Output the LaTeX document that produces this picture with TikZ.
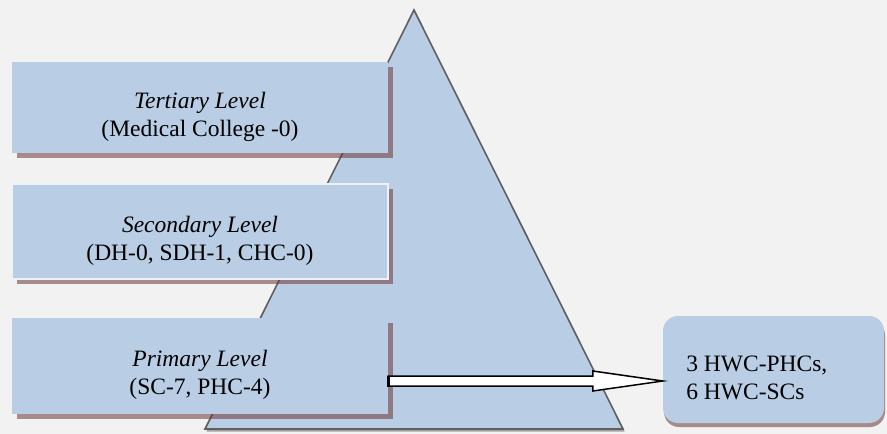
\documentclass[tikz,border=0pt]{standalone}
\usepackage{fontspec}
\setmainfont{Liberation Serif}
\usetikzlibrary{shadows}
\definecolor{lvlfill}{HTML}{B9CDE5}
\definecolor{lvlshadow}{RGB}{107,53,53}
\definecolor{pagebg}{HTML}{F2F2F2}
\definecolor{triedge}{RGB}{95,95,95}

\begin{document}
\begin{tikzpicture}[x=1pt,y=-1pt,
    lvlbox/.style={fill=lvlfill, minimum width=376,
        drop shadow={shadow xshift=5pt, shadow yshift=-5pt, fill=lvlshadow, opacity=.55}},
    lvltext/.style={align=center, font=\fontsize{23.5}{28}\selectfont},
    blockarrow/.style={draw=black, fill=white, line width=1.5pt, line join=miter}]
\fill[pagebg] (0,0) rectangle (887,434);
\useasboundingbox (0,0) rectangle (887,434);

\filldraw[fill=lvlfill, draw=triedge, line width=1.6pt,
    drop shadow={shadow xshift=1.5pt, shadow yshift=-2.5pt, fill=gray, opacity=.7}]
    (414,10) -- (623,429) -- (205,429) -- cycle;

\begin{scope}[every node/.style={lvlbox}]
    \node (tert) at (200,107.5) [minimum height=91] {};
    \node (sec) at (200,231.5) [minimum height=95, draw=white!75!lvlfill, line width=1.2pt] {};
    \node (prim) at (200,366) [minimum height=96] {};
\end{scope}

\begin{scope}[every node/.style={lvltext}]
    \node (tertText) at ([yshift=-9]tert.center) {\textit{Tertiary Level}\\(Medical College -0)};
    \node (secText) at ([yshift=-9]sec.center) {\textit{Secondary Level}\\(DH-0, SDH-1, CHC-0)};
    \node (primText) at ([yshift=-9]prim.center) {\textit{Primary Level}\\(SC-7, PHC-4)};
\end{scope}

\node (hwc) at (773.5,369.5) [fill=lvlfill, rounded corners=15pt, minimum width=221, minimum height=107,
    drop shadow={shadow xshift=1pt, shadow yshift=-4pt, fill=lvlshadow, opacity=.55}] {};
\node (hwcText) [lvltext, align=left, anchor=west] at ([xshift=20,yshift=-8]hwc.west) {3 HWC-PHCs,\\6 HWC-SCs};

\coordinate (arrowy) at (0,381);
\path (prim.east |- arrowy) coordinate (a0) (hwc.west |- arrowy) coordinate (a1);
\draw[blockarrow] ([yshift=5]a0) -- ([xshift=-70,yshift=5]a1) -- ([xshift=-70,yshift=10]a1) -- (a1)
    -- ([xshift=-70,yshift=-10]a1) -- ([xshift=-70,yshift=-5]a1) -- ([yshift=-5]a0) -- cycle;
\draw[line width=3pt] ([yshift=5.5]a0) -- ([yshift=-5.5]a0);
\end{tikzpicture}
\end{document}
